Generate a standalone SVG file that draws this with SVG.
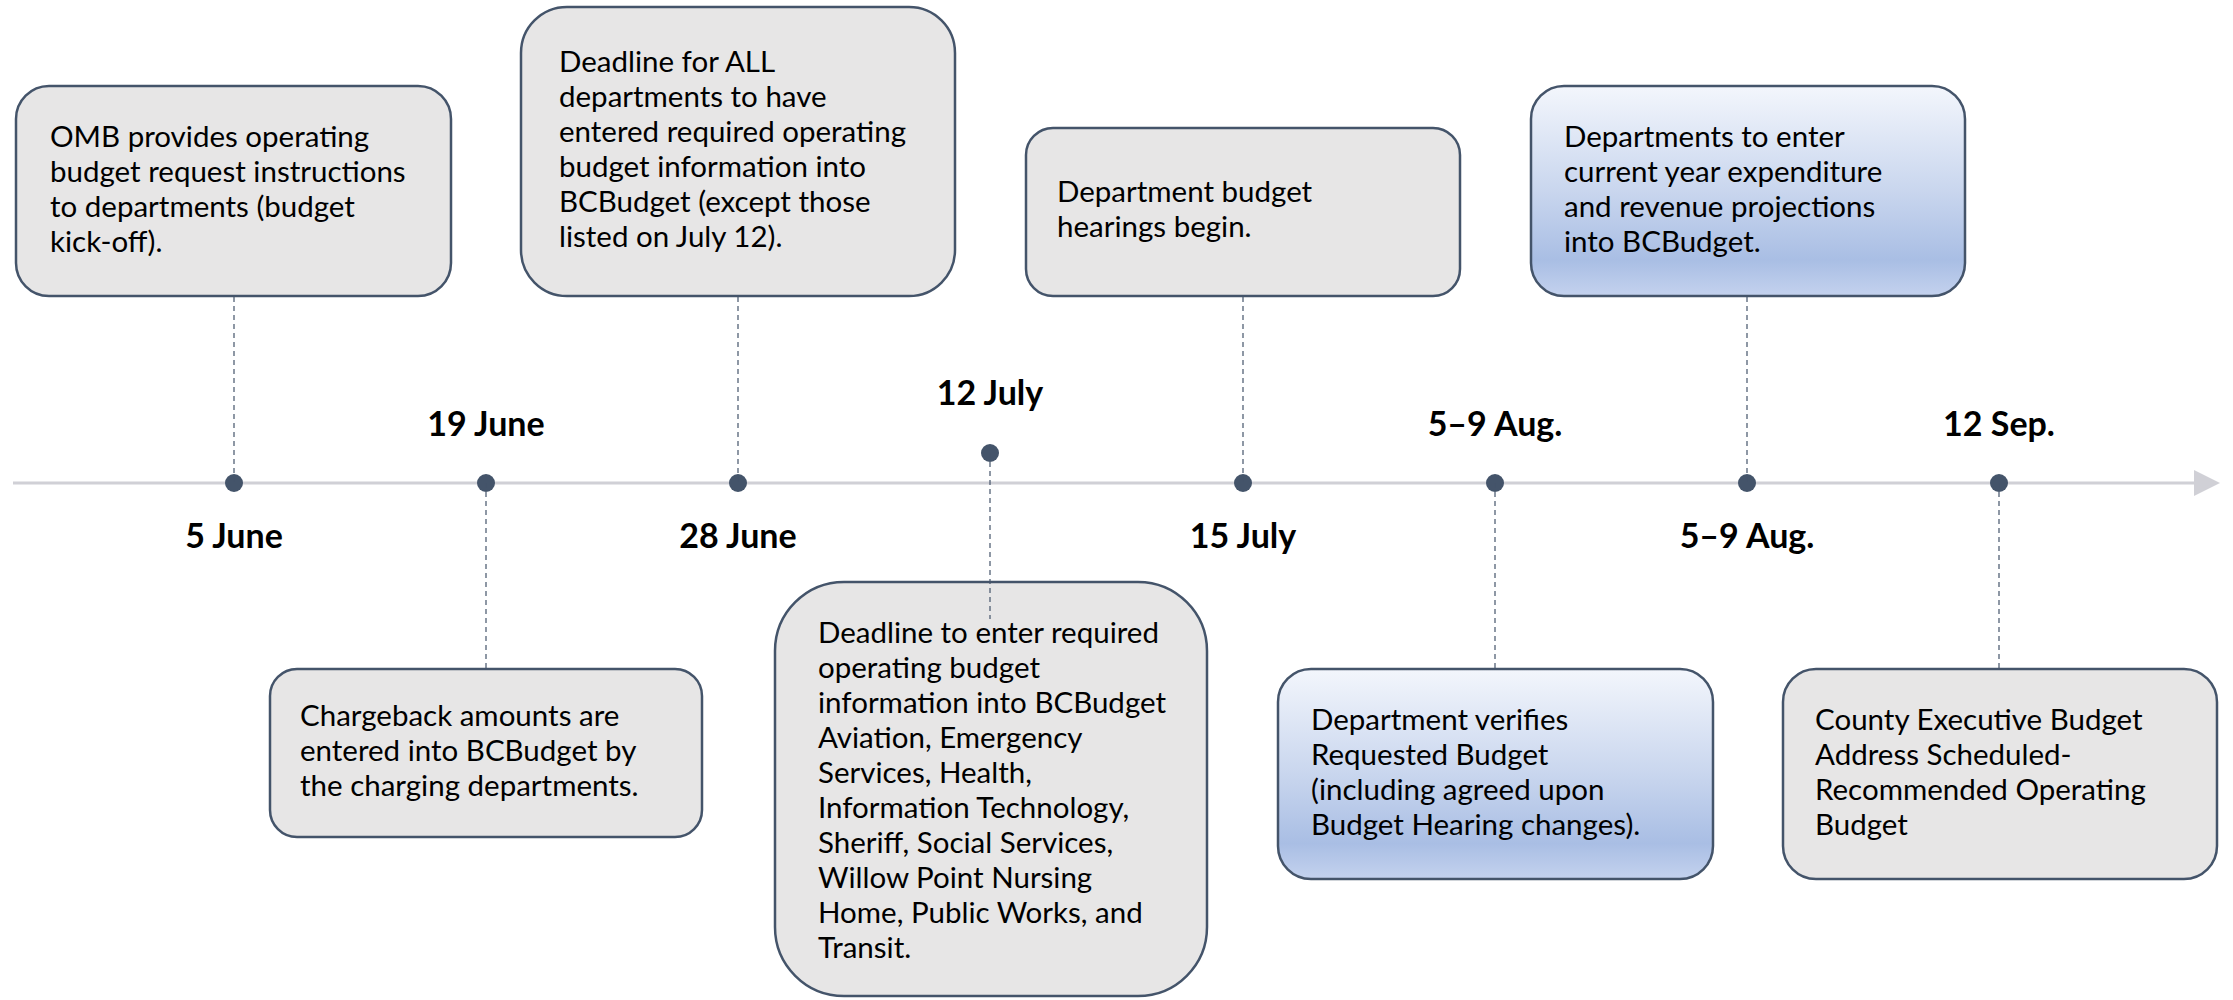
<svg xmlns="http://www.w3.org/2000/svg" width="2233" height="1000" viewBox="0 0 2233 1000">
<defs>
<linearGradient id="blue" x1="0" y1="0" x2="0" y2="1">
<stop offset="0" stop-color="#F3F6FC"/>
<stop offset="0.5" stop-color="#C9D6EE"/>
<stop offset="0.83" stop-color="#A9BEE4"/>
<stop offset="1" stop-color="#C4D2EE"/>
</linearGradient>
<style>
.box{fill:#E7E6E6;stroke:#44546A;stroke-width:2.5}
.bbox{fill:url(#blue);stroke:#44546A;stroke-width:2.5}
.t{font-family:Lato,"Liberation Sans",sans-serif;font-size:29.5px;fill:#000}
.d{font-family:Lato,"Liberation Sans",sans-serif;font-size:34px;font-weight:bold;fill:#000;text-anchor:middle}
.dot{fill:#44546A}
.con{stroke:#44546A;stroke-width:1.2;stroke-dasharray:5 4;fill:none}
</style>
</defs>
<rect width="2233" height="1000" fill="#FFFFFF"/>
<g id="axis">
<line x1="13" y1="483" x2="2196" y2="483" stroke="#D0D0D6" stroke-width="3"/>
<polygon points="2194,470 2220,483 2194,496" fill="#D0D0D6"/>
</g>
<g id="e1">
<rect class="box" x="16" y="86" width="435" height="210" rx="33"/>
<text class="t" x="50"><tspan x="50" y="147">OMB provides operating</tspan><tspan x="50" y="182">budget request instructions</tspan><tspan x="50" y="217">to departments (budget</tspan><tspan x="50" y="252">kick-off).</tspan></text>
<circle class="dot" cx="234" cy="483" r="9"/>
<text class="d" x="234" y="548">5 June</text>
</g>
<g id="e2">
<rect class="box" x="270" y="669" width="432" height="168" rx="27"/>
<text class="t"><tspan x="300" y="726">Chargeback amounts are</tspan><tspan x="300" y="761">entered into BCBudget by</tspan><tspan x="300" y="796">the charging departments.</tspan></text>
<circle class="dot" cx="486" cy="483" r="9"/>
<text class="d" x="486" y="436">19 June</text>
</g>
<g id="e3">
<rect class="box" x="521" y="7" width="434" height="289" rx="46"/>
<text class="t"><tspan x="559" y="72">Deadline for ALL</tspan><tspan x="559" y="107">departments to have</tspan><tspan x="559" y="142">entered required operating</tspan><tspan x="559" y="177">budget information into</tspan><tspan x="559" y="212">BCBudget (except those</tspan><tspan x="559" y="247">listed on July 12).</tspan></text>
<circle class="dot" cx="738" cy="483" r="9"/>
<text class="d" x="738" y="548">28 June</text>
</g>
<g id="e4">
<rect class="box" x="775" y="582" width="432" height="414" rx="69"/>
<text class="t"><tspan x="818" y="643">Deadline to enter required</tspan><tspan x="818" y="678">operating budget</tspan><tspan x="818" y="713">information into BCBudget</tspan><tspan x="818" y="748">Aviation, Emergency</tspan><tspan x="818" y="783">Services, Health,</tspan><tspan x="818" y="818">Information Technology,</tspan><tspan x="818" y="853">Sheriff, Social Services,</tspan><tspan x="818" y="888">Willow Point Nursing</tspan><tspan x="818" y="923">Home, Public Works, and</tspan><tspan x="818" y="958">Transit.</tspan></text>
<circle class="dot" cx="990" cy="453" r="9"/>
<text class="d" x="990" y="405">12 July</text>
</g>
<g id="e5">
<rect class="box" x="1026" y="128" width="434" height="168" rx="27"/>
<text class="t"><tspan x="1057" y="202">Department budget</tspan><tspan x="1057" y="237">hearings begin.</tspan></text>
<circle class="dot" cx="1243" cy="483" r="9"/>
<text class="d" x="1243" y="548">15 July</text>
</g>
<g id="e6">
<rect class="bbox" x="1278" y="669" width="435" height="210" rx="33"/>
<text class="t"><tspan x="1311" y="730">Department verifies</tspan><tspan x="1311" y="765">Requested Budget</tspan><tspan x="1311" y="800">(including agreed upon</tspan><tspan x="1311" y="835">Budget Hearing changes).</tspan></text>
<circle class="dot" cx="1495" cy="483" r="9"/>
<text class="d" x="1495" y="436">5–9 Aug.</text>
</g>
<g id="e7">
<rect class="bbox" x="1531" y="86" width="434" height="210" rx="33"/>
<text class="t"><tspan x="1564" y="147">Departments to enter</tspan><tspan x="1564" y="182">current year expenditure</tspan><tspan x="1564" y="217">and revenue projections</tspan><tspan x="1564" y="252">into BCBudget.</tspan></text>
<circle class="dot" cx="1747" cy="483" r="9"/>
<text class="d" x="1747" y="548">5–9 Aug.</text>
</g>
<g id="e8">
<rect class="box" x="1783" y="669" width="434" height="210" rx="33"/>
<text class="t"><tspan x="1815" y="730">County Executive Budget</tspan><tspan x="1815" y="765">Address Scheduled-</tspan><tspan x="1815" y="800">Recommended Operating</tspan><tspan x="1815" y="835">Budget</tspan></text>
<circle class="dot" cx="1999" cy="483" r="9"/>
<text class="d" x="1999" y="436">12 Sep.</text>
</g>
<g id="connectors">
<line class="con" x1="234" y1="297" x2="234" y2="483"/>
<line class="con" x1="486" y1="483" x2="486" y2="668"/>
<line class="con" x1="738" y1="297" x2="738" y2="483"/>
<line class="con" x1="990" y1="453" x2="990" y2="619"/>
<line class="con" x1="1243" y1="297" x2="1243" y2="483"/>
<line class="con" x1="1495" y1="483" x2="1495" y2="668"/>
<line class="con" x1="1747" y1="297" x2="1747" y2="483"/>
<line class="con" x1="1999" y1="483" x2="1999" y2="668"/>
</g>
</svg>
